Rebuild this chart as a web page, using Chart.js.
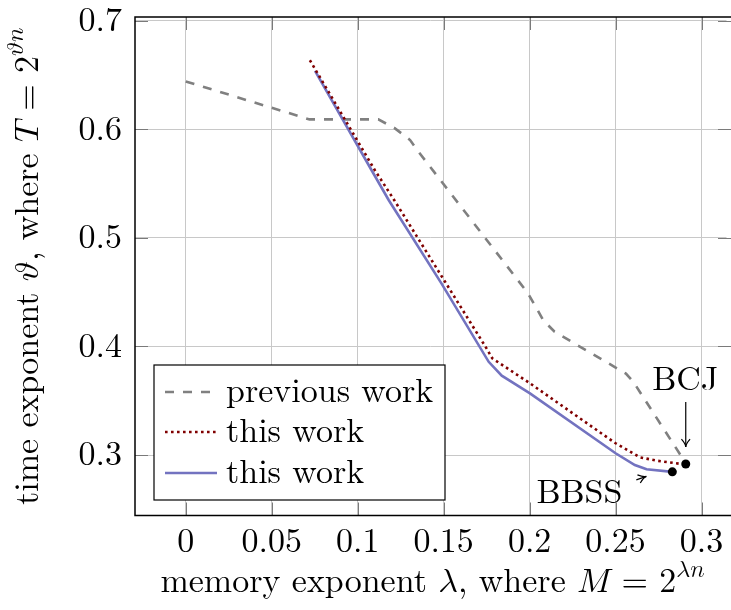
<!DOCTYPE html>
<html>
<head>
<meta charset="utf-8">
<script src="https://cdn.jsdelivr.net/npm/chart.js@4.4.1/dist/chart.umd.min.js"></script>
<style>
  html, body { margin: 0; padding: 0; background: #fff; }
</style>
</head>
<body>
<canvas id="chart" width="731" height="610"></canvas>
<script>
const xTicks = [0, 0.05, 0.1, 0.15, 0.2, 0.25, 0.3];
const xTickLabels = ['0', '0.05', '0.1', '0.15', '0.2', '0.25', '0.3'];
const yTicks = [0.3, 0.4, 0.5, 0.6, 0.7];
const yTickLabels = ['0.3', '0.4', '0.5', '0.6', '0.7'];

// previous work (dashed grey)
const previousLambda = [0, 0.072, 0.112, 0.1215, 0.1305, 0.1345, 0.199, 0.208, 0.2145, 0.256, 0.2605, 0.291];
const previousTheta = [0.644, 0.609, 0.609, 0.601, 0.590, 0.581, 0.449, 0.424, 0.4135, 0.375, 0.367, 0.292];

// this work (dotted dark red)
const dottedLambda = [0.0722, 0.110, 0.1213, 0.175, 0.1783, 0.2002, 0.25, 0.2641, 0.2738, 0.2884];
const dottedTheta = [0.6635, 0.5622, 0.5346, 0.398, 0.389, 0.366, 0.3108, 0.2979, 0.2948, 0.2917];

// this work (solid blue)
const solidLambda = [0.0752, 0.1081, 0.1181, 0.1487, 0.1762, 0.1838, 0.2002, 0.25, 0.2612, 0.268, 0.283];
const solidTheta = [0.6536, 0.5622, 0.5346, 0.458, 0.3858, 0.373, 0.3568, 0.3016, 0.2908, 0.2868, 0.2845];

// named reference points
const markNames = ['BBSS', 'BCJ'];
const markLambda = [0.283, 0.2908];
const markTheta = [0.2845, 0.2917];

const legendLabels = ['previous work', 'this work', 'this work'];

const FONT = "'Latin Modern Roman', 'Liberation Serif', serif";
const MATH = "'Latin Modern Math', 'Latin Modern Roman', 'DejaVu Serif', serif";
const FS = 34;
const GREY = '#808080';
const RED = '#800000';
const BLUE = '#7373c0';

function toPoints(xs, ys) {
  return xs.map((x, i) => ({ x, y: ys[i] }));
}

function runFont(r) {
  const size = r.sup ? Math.round(FS * 0.72) : FS;
  return `${size}px ${r.math ? MATH : FONT}`;
}

// draws text made of runs, some in math italic, some superscript
function drawRich(ctx, runs, x, y, align) {
  const widths = runs.map((r) => {
    ctx.font = runFont(r);
    return ctx.measureText(r.t).width;
  });
  const total = widths.reduce((a, b) => a + b, 0);
  let cx = align === 'center' ? x - total / 2 : x;
  ctx.textAlign = 'left';
  ctx.textBaseline = 'alphabetic';
  runs.forEach((r, i) => {
    ctx.font = runFont(r);
    ctx.fillText(r.t, cx, r.sup ? y - FS * 0.45 : y);
    cx += widths[i];
  });
}

function arrowHead(ctx, x, y, angle) {
  const len = 9;
  const spread = 0.5;
  ctx.beginPath();
  ctx.moveTo(x - len * Math.cos(angle - spread), y - len * Math.sin(angle - spread));
  ctx.quadraticCurveTo(x - 3 * Math.cos(angle), y - 3 * Math.sin(angle), x, y);
  ctx.quadraticCurveTo(x - 3 * Math.cos(angle), y - 3 * Math.sin(angle),
    x - len * Math.cos(angle + spread), y - len * Math.sin(angle + spread));
  ctx.stroke();
}

const decorPlugin = {
  id: 'decor',
  afterDatasetsDraw(chart) {
    const { ctx, chartArea: a, scales } = chart;
    // the right edge of the axis box sits on the canvas border
    const right = chart.width;
    ctx.save();
    // inward tick marks on all four sides
    ctx.strokeStyle = '#7a7a7a';
    ctx.lineWidth = 1;
    const tl = 13;
    xTicks.forEach((v) => {
      const px = Math.round(scales.x.getPixelForValue(v)) + 0.5;
      ctx.beginPath();
      ctx.moveTo(px, a.top); ctx.lineTo(px, a.top + tl);
      ctx.moveTo(px, a.bottom); ctx.lineTo(px, a.bottom - tl);
      ctx.stroke();
    });
    yTicks.forEach((v) => {
      const py = Math.round(scales.y.getPixelForValue(v)) + 0.5;
      ctx.beginPath();
      ctx.moveTo(a.left, py); ctx.lineTo(a.left + tl, py);
      ctx.moveTo(right, py); ctx.lineTo(right - tl, py);
      ctx.stroke();
    });
    // frame
    ctx.strokeStyle = '#000';
    ctx.lineWidth = 1.5;
    ctx.beginPath();
    ctx.moveTo(right, a.top);
    ctx.lineTo(a.left, a.top);
    ctx.lineTo(a.left, a.bottom);
    ctx.lineTo(right, a.bottom);
    ctx.stroke();

    // annotations for BBSS and BCJ
    ctx.fillStyle = '#000';
    ctx.strokeStyle = '#000';
    ctx.lineWidth = 1.2;
    const bx = scales.x.getPixelForValue(markLambda[0]);
    const by = scales.y.getPixelForValue(markTheta[0]);
    const cx = scales.x.getPixelForValue(markLambda[1]);
    const cy = scales.y.getPixelForValue(markTheta[1]);
    ctx.font = `${FS}px ${FONT}`;
    ctx.textBaseline = 'alphabetic';
    ctx.textAlign = 'center';
    ctx.fillText(markNames[1], cx - 0.5, cy - 74);
    ctx.beginPath();
    ctx.moveTo(cx, cy - 62); ctx.lineTo(cx, cy - 17);
    ctx.stroke();
    arrowHead(ctx, cx, cy - 17, Math.PI / 2);
    ctx.textAlign = 'right';
    ctx.fillText(markNames[0], bx - 50, by + 31);
    ctx.beginPath();
    ctx.moveTo(bx - 36, by + 8); ctx.lineTo(bx - 26, by + 4.5);
    ctx.stroke();
    arrowHead(ctx, bx - 26, by + 4.5, Math.atan2(-3.5, 10));

    // legend box
    const lx = 154, ly = 365, lw = 291, lh = 135;
    ctx.fillStyle = '#fff';
    ctx.fillRect(lx, ly, lw, lh);
    ctx.strokeStyle = '#000';
    ctx.lineWidth = 1.2;
    ctx.strokeRect(lx, ly, lw, lh);
    const styles = [
      { color: GREY, dash: [9, 9] },
      { color: RED, dash: [2.6, 3.4] },
      { color: BLUE, dash: [] },
    ];
    const baselines = [401.5, 441.5, 482.5];
    legendLabels.forEach((label, i) => {
      const yy = baselines[i] - 9.5;
      ctx.strokeStyle = styles[i].color;
      ctx.lineWidth = 2.6;
      ctx.setLineDash(styles[i].dash);
      ctx.beginPath();
      ctx.moveTo(165, yy); ctx.lineTo(217, yy);
      ctx.stroke();
      ctx.setLineDash([]);
      ctx.fillStyle = '#000';
      ctx.font = `${FS}px ${FONT}`;
      ctx.textAlign = 'left';
      ctx.fillText(label, 226, baselines[i]);
    });

    // axis titles
    ctx.fillStyle = '#000';
    drawRich(ctx, [
      { t: 'memory exponent ' },
      { t: '\u{1D706}', math: true },
      { t: ', where ' },
      { t: '\u{1D440}', math: true },
      { t: ' = 2' },
      { t: '\u{1D706}\u{1D45B}', math: true, sup: true },
    ], 432.5, 592, 'center');

    ctx.save();
    ctx.translate(38, (a.top + a.bottom) / 2);
    ctx.rotate(-Math.PI / 2);
    drawRich(ctx, [
      { t: 'time exponent ' },
      { t: '\u{1D717}', math: true },
      { t: ', where ' },
      { t: '\u{1D447}', math: true },
      { t: ' = 2' },
      { t: '\u{1D717}\u{1D45B}', math: true, sup: true },
    ], 0, 0, 'center');
    ctx.restore();
    ctx.restore();
  },
};

const tickFont = { family: FONT, size: FS, lineHeight: 1 };

new Chart(document.getElementById('chart'), {
  type: 'line',
  data: {
    datasets: [
      {
        label: markNames.join(', '),
        data: toPoints(markLambda, markTheta),
        showLine: false,
        pointRadius: 4.5,
        pointBackgroundColor: '#000',
        pointBorderWidth: 0,
        order: 0,
      },
      {
        label: legendLabels[2],
        data: toPoints(solidLambda, solidTheta),
        borderColor: BLUE,
        borderWidth: 2.6,
        pointRadius: 0,
        tension: 0,
        order: 2,
      },
      {
        label: legendLabels[1],
        data: toPoints(dottedLambda, dottedTheta),
        borderColor: RED,
        borderWidth: 2.6,
        borderDash: [2.6, 3.4],
        borderCapStyle: 'butt',
        pointRadius: 0,
        tension: 0,
        order: 1,
      },
      {
        label: legendLabels[0],
        data: toPoints(previousLambda, previousTheta),
        borderColor: GREY,
        borderWidth: 2.6,
        borderDash: [9, 9],
        pointRadius: 0,
        tension: 0,
        order: 3,
      },
    ],
  },
  options: {
    responsive: false,
    animation: false,
    devicePixelRatio: 1,
    layout: { padding: { left: 0, right: 0, top: 17, bottom: 0 } },
    plugins: {
      legend: { display: false },
      tooltip: { enabled: false },
    },
    scales: {
      x: {
        type: 'linear',
        min: -0.0295,
        max: 0.3145,
        afterBuildTicks: (scale) => {
          scale.ticks = xTicks.map((value) => ({ value }));
        },
        afterFit: (scale) => {
          scale.height = 94.5;
          scale.paddingLeft = 0;
          scale.paddingRight = 0;
        },
        ticks: {
          callback: (value) => xTickLabels[xTicks.indexOf(value)],
          font: tickFont,
          color: '#000',
          padding: 9,
          maxRotation: 0,
          autoSkip: false,
        },
        grid: { color: '#c8c8c8', lineWidth: 1, drawTicks: false },
        border: { display: false },
      },
      y: {
        type: 'linear',
        min: 0.2443,
        max: 0.7033,
        afterBuildTicks: (scale) => {
          scale.ticks = yTicks.map((value) => ({ value }));
        },
        afterFit: (scale) => {
          scale.width = 135;
          scale.paddingTop = 0;
          scale.paddingBottom = 0;
        },
        ticks: {
          callback: (value) => yTickLabels[yTicks.indexOf(value)],
          font: tickFont,
          color: '#000',
          padding: 13,
          autoSkip: false,
        },
        grid: { color: '#c8c8c8', lineWidth: 1, drawTicks: false },
        border: { display: false },
      },
    },
  },
  plugins: [decorPlugin],
});
</script>
</body>
</html>
